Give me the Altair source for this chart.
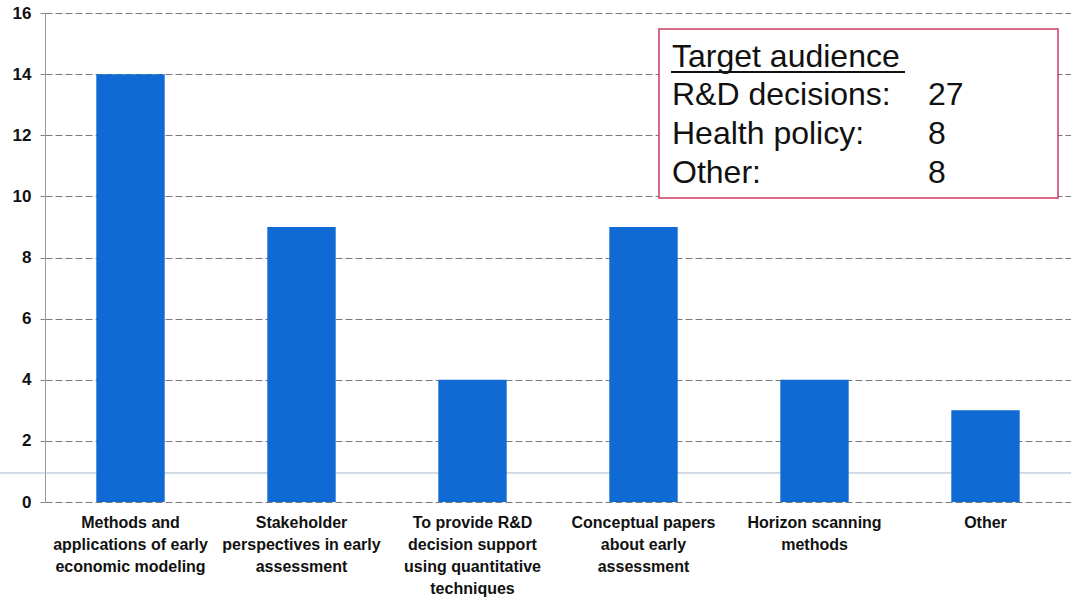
import altair as alt
import pandas as pd

categories = [
    "Methods and|applications of early|economic modeling",
    "Stakeholder|perspectives in early|assessment",
    "To provide R&D|decision support|using quantitative|techniques",
    "Conceptual papers|about early|assessment",
    "Horizon scanning|methods",
    "Other",
]
values = [14, 9, 4, 9, 4, 3]
y_ticks = [0, 2, 4, 6, 8, 10, 12, 14, 16]

box_title = "Target audience"
audience_labels = ["R&D decisions:", "Health policy:", "Other:"]
audience_counts = [27, 8, 8]

df = pd.DataFrame({"category": categories, "value": values})

FONT = "Liberation Sans"
W, H = 1026, 489

bars = alt.Chart(df).mark_bar(color="#106ad4").encode(
    x=alt.X(
        "category:N",
        sort=categories,
        title=None,
        scale=alt.Scale(paddingInner=0.6, paddingOuter=0.3),
        axis=alt.Axis(
            labelExpr="split(datum.label, '|')",
            labelAngle=0,
            labelFont=FONT,
            labelFontSize=16,
            labelFontWeight="bold",
            labelColor="#111",
            labelLineHeight=22,
            labelPadding=12,
            domain=False,
            ticks=False,
            grid=False,
        ),
    ),
    y=alt.Y(
        "value:Q",
        title=None,
        scale=alt.Scale(domain=[0, 16], nice=False),
        axis=alt.Axis(
            values=y_ticks,
            labelFont=FONT,
            labelFontSize=17,
            labelFontWeight="bold",
            labelColor="#111",
            labelPadding=9,
            tickSize=5,
            tickColor="#888",
            domainColor="#9a9a9a",
            domainWidth=1,
            grid=True,
            gridColor="#7a7a7a",
            gridDash=[7, 3],
            gridWidth=1,
        ),
    ),
)

# faint scan line across the chart
scanline = alt.Chart(pd.DataFrame({"v": [0.95]})).mark_rule(
    color="#a9b8cc", strokeWidth=1, clip=False
).encode(y="v:Q", x=alt.value(-45), x2=alt.value(W))

# annotation box
box = alt.Chart(pd.DataFrame({"a": [0]})).mark_rect(
    fill="white", stroke="#cc3a62", strokeWidth=1.5
).encode(x=alt.value(614), x2=alt.value(1013), y=alt.value(16), y2=alt.value(185))

layers = [scanline, bars, box]

TS = 32
title_txt = alt.Chart(pd.DataFrame({"t": [box_title]})).mark_text(
    font=FONT, fontSize=TS, align="left", baseline="alphabetic", color="#111"
).encode(text="t:N", x=alt.value(627), y=alt.value(54))
underline = alt.Chart(pd.DataFrame({"a": [0]})).mark_rule(
    color="#111", strokeWidth=2
).encode(x=alt.value(626), x2=alt.value(860), y=alt.value(59))
layers += [title_txt, underline]

row_y = [92, 131, 170]
for lab, cnt, yy in zip(audience_labels, audience_counts, row_y):
    d = pd.DataFrame({"label": [lab], "count": [str(cnt)]})
    layers.append(
        alt.Chart(d).mark_text(
            font=FONT, fontSize=TS, align="left", baseline="alphabetic", color="#111"
        ).encode(text="label:N", x=alt.value(627), y=alt.value(yy))
    )
    layers.append(
        alt.Chart(d).mark_text(
            font=FONT, fontSize=TS, align="left", baseline="alphabetic", color="#111"
        ).encode(text="count:N", x=alt.value(883), y=alt.value(yy))
    )

chart = alt.layer(*layers).properties(
    width=W,
    height=H,
    autosize=alt.AutoSizeParams(type="none"),
    padding={"left": 45, "top": 13, "right": 0, "bottom": 99},
    background="white",
).configure_view(stroke=None)

chart.save("out.html", embed_options={"renderer": "svg", "actions": False})
